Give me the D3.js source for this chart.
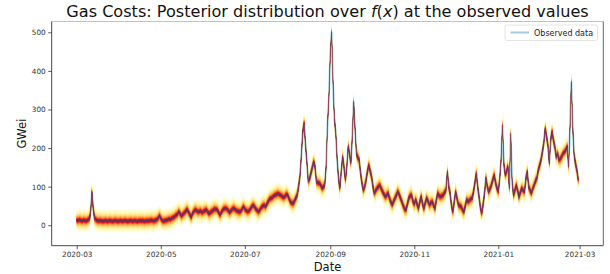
<!DOCTYPE html>
<html><head><meta charset="utf-8">
<script src="https://cdn.jsdelivr.net/npm/d3@7"></script>
<style>
body{margin:0;background:#fff}
svg{display:block;font-family:"DejaVu Sans",sans-serif}
</style>
</head><body>
<svg id="chart" width="610" height="274"></svg>
<script>
// ---- data ----
const startDate = "2020-03-01";
// daily observed gas price (GWei), Mar 2020 .. Feb 2021
const observed = [
  // Mar 2020
  13,12,14,12,11,13,12,11,14,16,30,86,40,18,14,12,11,12,11,10,11,12,10,11,12,11,10,11,12,11,10,
  // Apr
  11,12,10,11,12,11,10,11,12,11,10,12,11,10,11,12,11,12,10,11,12,11,12,13,12,11,13,14,18,24,
  // May
  18,12,11,12,13,14,16,15,18,20,22,26,28,35,30,24,28,32,36,41,35,28,21,30,36,40,38,34,36,37,33,
  // Jun
  36,38,40,35,30,33,36,39,42,41,40,33,27,34,40,43,44,42,38,33,38,42,44,41,38,36,35,36,42,48,
  // Jul
  42,38,36,37,42,48,52,48,42,38,35,40,46,50,52,48,55,62,68,70,72,76,78,80,82,80,78,75,72,74,80,
  // Aug
  78,70,61,58,56,62,70,78,100,126,180,240,265,210,165,115,120,135,150,165,150,112,110,109,105,96,100,104,152,260,330,
  // Sep
  440,501,370,275,240,170,120,96,140,178,150,117,150,204,185,161,230,320,250,186,175,169,135,110,91,100,117,140,156,140,
  // Oct
  126,100,83,90,96,100,104,95,87,80,74,78,83,70,60,53,62,70,78,87,80,70,61,50,42,40,55,70,76,78,62,
  // Nov
  55,66,55,44,60,74,55,44,58,70,62,53,58,61,52,44,65,83,76,74,76,78,85,91,139,100,83,50,35,60,
  // Dec
  87,70,53,50,48,40,35,50,66,61,64,68,70,87,110,135,100,74,45,31,55,83,122,100,87,95,104,118,130,110,96,
  // Jan 2021
  87,120,169,260,160,130,140,152,95,238,113,78,90,104,90,74,85,96,90,87,120,139,100,91,83,95,104,115,122,143,155,
  // Feb 2021
  169,190,212,251,230,208,160,221,243,220,204,178,186,169,172,178,186,190,195,204,152,250,372,255,182,160,143,117
];
const xTickLabels = ["2020-03","2020-05","2020-07","2020-09","2020-11","2021-01","2021-03"];
const yTickValues = [0,100,200,300,400,500];
const bandPercentiles = d3.range(40).map(i => 51 + i * 48 / 39);
const posteriorSd = 12.5;
const yDomain = [-53, 528];

// ---- helpers ----
function normInv(p){
  const a=[-3.969683028665376e+01,2.209460984245205e+02,-2.759285104469687e+02,1.383577518672690e+02,-3.066479806614716e+01,2.506628277459239e+00];
  const b=[-5.447609879822406e+01,1.615858368580409e+02,-1.556989798598866e+02,6.680131188771972e+01,-1.328068155288572e+01];
  const c=[-7.784894002430293e-03,-3.223964580411365e-01,-2.400758277161838e+00,-2.549732539343734e+00,4.374664141464968e+00,2.938163982698783e+00];
  const d=[7.784695709041462e-03,3.224671290700398e-01,2.445134137142996e+00,3.754408661907416e+00];
  const pl=0.02425;
  let q,r;
  if(p<pl){q=Math.sqrt(-2*Math.log(p));return (((((c[0]*q+c[1])*q+c[2])*q+c[3])*q+c[4])*q+c[5])/((((d[0]*q+d[1])*q+d[2])*q+d[3])*q+1);}
  if(p>1-pl){q=Math.sqrt(-2*Math.log(1-p));return -(((((c[0]*q+c[1])*q+c[2])*q+c[3])*q+c[4])*q+c[5])/((((d[0]*q+d[1])*q+d[2])*q+d[3])*q+1);}
  q=p-0.5;r=q*q;
  return (((((a[0]*r+a[1])*r+a[2])*r+a[3])*r+a[4])*r+a[5])*q/(((((b[0]*r+b[1])*r+b[2])*r+b[3])*r+b[4])*r+1);
}

const parse = d3.timeParse("%Y-%m-%d");
const start = parse(startDate);
const dates = observed.map((_, i) => d3.timeDay.offset(start, i));
const data = observed.map((v, i) => ({date: dates[i], v}));

const svg = d3.select("#chart");
const L = 51.7, R = 603.3, T = 21.5, B = 245.7;
const span = dates[dates.length-1] - dates[0];
const x = d3.scaleTime()
  .domain([new Date(+dates[0] - span*0.05), new Date(+dates[dates.length-1] + span*0.05)])
  .range([L, R]);
const y = d3.scaleLinear().domain(yDomain).range([B, T]);

svg.append("clipPath").attr("id","clip").append("rect")
  .attr("x",L).attr("y",T).attr("width",R-L).attr("height",B-T);
const plot = svg.append("g").attr("clip-path","url(#clip)");

// posterior bands
const pMin = d3.min(bandPercentiles), pMax = d3.max(bandPercentiles);
bandPercentiles.slice().reverse().forEach(p => {
  const t = (pMax - p) / (pMax - pMin);
  const z = normInv(p/100);
  const area = d3.area()
    .x(d => x(d.date))
    .y0(d => y(d.v - z*posteriorSd))
    .y1(d => y(d.v + z*posteriorSd));
  plot.append("path").datum(data)
    .attr("d", area)
    .attr("fill", d3.interpolateYlOrRd(t))
    .attr("fill-opacity", 0.8);
});

// observed line
plot.append("path").datum(data)
  .attr("d", d3.line().x(d => x(d.date)).y(d => y(d.v)))
  .attr("fill","none")
  .attr("stroke","#1f77b4")
  .attr("stroke-opacity",0.4)
  .attr("stroke-width",2);

// axes
const tickDates = xTickLabels.map(s => d3.timeParse("%Y-%m")(s));
const xAxis = svg.append("g").attr("transform",`translate(0,${B})`)
  .call(d3.axisBottom(x).tickValues(tickDates).tickFormat(d3.timeFormat("%Y-%m")).tickSize(3.5).tickPadding(2.5));
const yAxis = svg.append("g").attr("transform",`translate(${L},0)`)
  .call(d3.axisLeft(y).tickValues(yTickValues).tickSize(3.5).tickPadding(2.5));
[xAxis,yAxis].forEach(g => {
  g.select(".domain").remove();
  g.selectAll("line").attr("stroke","#333").attr("stroke-width",0.8);
  g.selectAll("text").attr("font-family","DejaVu Sans").attr("font-size",7.3).attr("fill","#333");
});

// spines
svg.append("line").attr("x1",L).attr("x2",L).attr("y1",T).attr("y2",B).attr("stroke","#333").attr("stroke-width",0.9);
svg.append("line").attr("x1",L).attr("x2",R).attr("y1",B).attr("y2",B).attr("stroke","#333").attr("stroke-width",0.9);
svg.append("line").attr("x1",R).attr("x2",R).attr("y1",T).attr("y2",B).attr("stroke","#555").attr("stroke-width",0.9);
svg.append("line").attr("x1",L).attr("x2",R).attr("y1",T).attr("y2",T).attr("stroke","#bbb").attr("stroke-width",0.9);

// title
const title = svg.append("text").attr("x",(L+R)/2).attr("y",17).attr("text-anchor","middle")
  .attr("font-size",16.1).attr("fill","#111");
title.append("tspan").text("Gas Costs: Posterior distribution over ");
title.append("tspan").attr("font-style","italic").text("f");
title.append("tspan").text("(");
title.append("tspan").attr("font-style","italic").text("x");
title.append("tspan").text(") at the observed values");

// axis labels
svg.append("text").attr("x",(L+R)/2).attr("y",271).attr("text-anchor","middle")
  .attr("font-size",11.5).attr("fill","#111").text("Date");
svg.append("text").attr("transform",`translate(26,${(T+B)/2}) rotate(-90)`).attr("text-anchor","middle")
  .attr("font-size",11.5).attr("fill","#111").text("GWei");

// legend
const lg = svg.append("g");
lg.append("rect").attr("x",505).attr("y",25).attr("width",92.5).attr("height",15.5).attr("rx",2)
  .attr("fill","#fff").attr("fill-opacity",0.8).attr("stroke","#ddd").attr("stroke-width",0.8);
lg.append("line").attr("x1",510.5).attr("x2",529).attr("y1",32.5).attr("y2",32.5)
  .attr("stroke","#1f77b4").attr("stroke-opacity",0.4).attr("stroke-width",2);
lg.append("text").attr("x",534).attr("y",35.5).attr("font-size",8).attr("fill","#222").text("Observed data");
</script>
</body></html>
